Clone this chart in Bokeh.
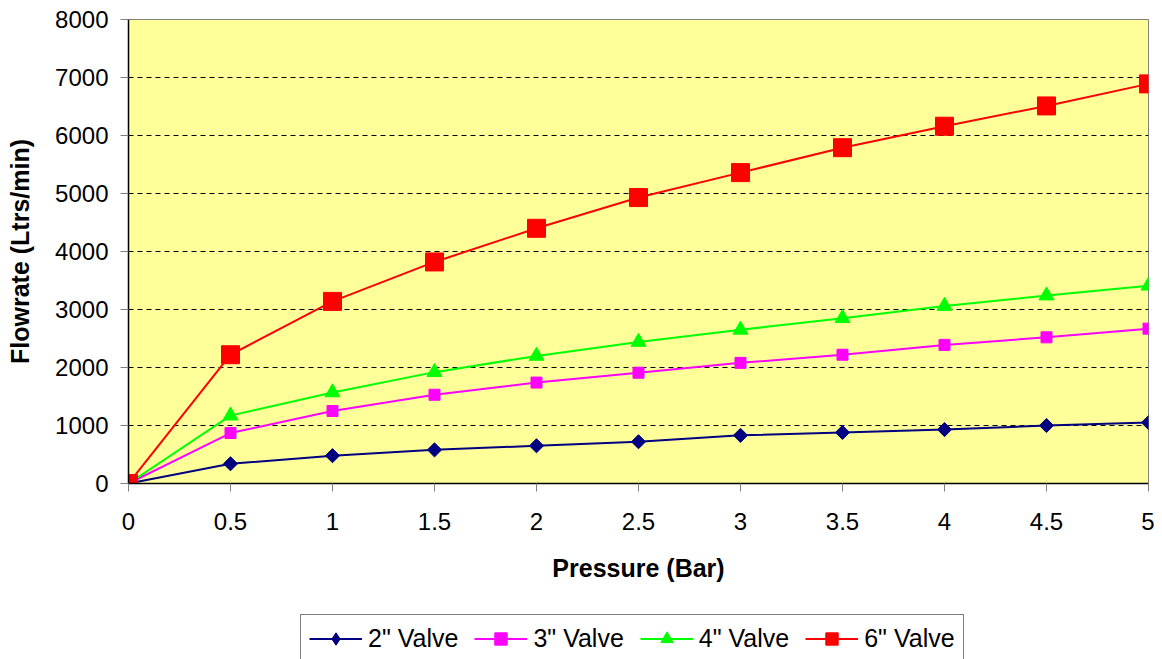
import math
from bokeh.plotting import figure
from bokeh.layouts import column
from bokeh.models import FixedTicker, Legend, LegendItem, Range1d
from bokeh.embed import file_html
from bokeh.resources import INLINE

pressure = [0, 0.5, 1, 1.5, 2, 2.5, 3, 3.5, 4, 4.5, 5]
valve2 = [0, 340, 480, 580, 650, 720, 830, 880, 930, 1000, 1050]
valve3 = [0, 870, 1250, 1530, 1740, 1910, 2080, 2220, 2390, 2520, 2670]
valve4 = [0, 1170, 1570, 1920, 2200, 2440, 2650, 2850, 3060, 3240, 3410]
valve6 = [0, 2220, 3140, 3820, 4400, 4930, 5360, 5790, 6160, 6510, 6890]
series_names = ['2" Valve', '3" Valve', '4" Valve', '6" Valve']
x_ticks = [0, 0.5, 1, 1.5, 2, 2.5, 3, 3.5, 4, 4.5, 5]
x_tick_labels = ["0", "0.5", "1", "1.5", "2", "2.5", "3", "3.5", "4", "4.5", "5"]
y_ticks = [0, 1000, 2000, 3000, 4000, 5000, 6000, 7000, 8000]
y_tick_labels = ["0", "1000", "2000", "3000", "4000", "5000", "6000", "7000", "8000"]

colors = ["#000080", "#FF00FF", "#00FF00", "#FF0000"]
markers = ["square", "square", "triangle", "square"]
legend_markers = ["diamond", "square", "triangle", "square"]
angles = [math.pi / 4, 0, 0, 0]
sizes = [10, 11, 15, 18]
series = [valve2, valve3, valve4, valve6]

FONT = "Liberation Sans"

p = figure(width=1154, height=613, output_backend="svg", toolbar_location=None,
           x_range=Range1d(0, 5), y_range=Range1d(0, 8000),
           min_border_left=128, min_border_right=6, min_border_top=19, min_border_bottom=130)
p.background_fill_color = "#FFFF99"
p.border_fill_color = "white"
p.outline_line_color = "#808080"
p.outline_line_width = 1

p.xgrid.grid_line_color = None
p.ygrid.grid_line_color = "black"
p.ygrid.grid_line_dash = "5 4"
p.ygrid.grid_line_width = 1

for ax in (p.xaxis[0], p.yaxis[0]):
    ax.axis_line_color = "black"
    ax.axis_line_width = 1.5
    ax.major_tick_line_color = "#808080"
    ax.major_tick_out = 8
    ax.major_tick_in = 0
    ax.minor_tick_line_color = None
    ax.major_label_text_font = FONT
    ax.major_label_text_font_size = "24px"
    ax.major_label_text_color = "black"
    ax.axis_label_text_font = FONT
    ax.axis_label_text_font_size = "25px"
    ax.axis_label_text_font_style = "bold"
    ax.axis_label_text_color = "black"

p.xaxis.ticker = FixedTicker(ticks=x_ticks)
p.xaxis.major_label_overrides = dict(zip(x_ticks, x_tick_labels))
p.yaxis.ticker = FixedTicker(ticks=y_ticks)
p.yaxis.major_label_overrides = dict(zip(y_ticks, y_tick_labels))
p.xaxis.axis_label = "Pressure (Bar)"
p.yaxis.axis_label = "Flowrate (Ltrs/min)"
p.xaxis.major_label_standoff = 21
p.xaxis.axis_label_standoff = 21
p.yaxis.major_label_standoff = 12
p.yaxis.axis_label_standoff = 18

for vals, c, mk, ang, sz in zip(series, colors, markers, angles, sizes):
    p.line(pressure, vals, line_color=c, line_width=2)
    p.scatter(pressure, vals, marker=mk, size=sz, angle=ang, fill_color=c, line_color=c)

# separate strip holding the legend (below the chart, as in the reference);
# its ranges keep the series themselves out of view, only the legend shows
lg = figure(width=1154, height=48, output_backend="svg", toolbar_location=None,
            x_range=Range1d(100, 101), y_range=Range1d(100000, 100001),
            x_axis_type=None, y_axis_type=None, min_border=0)
lg.outline_line_color = None
lg.grid.grid_line_color = None
lg.background_fill_color = "white"
lg.border_fill_color = "white"

items = []
for name, vals, c, mk, sz in zip(series_names, series, colors, legend_markers, sizes):
    lr = lg.line(pressure, vals, line_color=c, line_width=2)
    sr = lg.scatter(pressure, vals, marker=mk, size=sz, fill_color=c, line_color=c)
    items.append(LegendItem(label=name, renderers=[lr, sr]))

legend = Legend(items=items, orientation="horizontal", location=(172, -2))
legend.label_text_font = FONT
legend.label_text_font_size = "25px"
legend.label_text_color = "black"
legend.border_line_color = "black"
legend.border_line_width = 1
legend.background_fill_color = "white"
legend.background_fill_alpha = 1
legend.glyph_width = 53
legend.glyph_height = 31
legend.label_standoff = 6
legend.spacing = 16
legend.padding = 8
legend.margin = 0
lg.add_layout(legend, "center")

layout = column(p, lg, spacing=0)
open("out.html", "w").write(file_html(layout, INLINE))
